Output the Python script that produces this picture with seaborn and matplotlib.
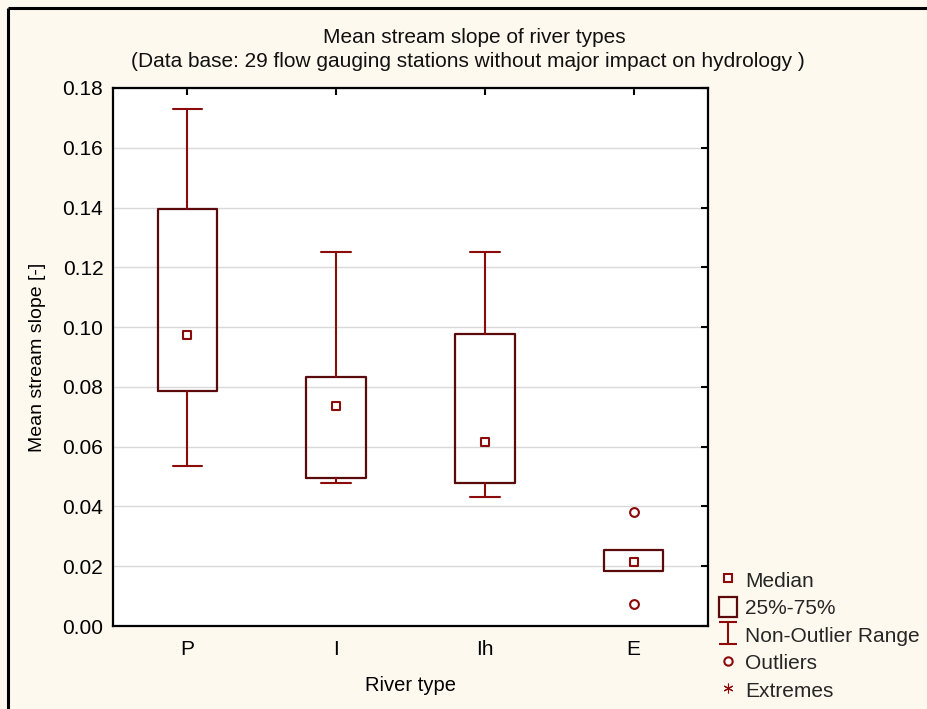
import numpy as np
import pandas as pd
import matplotlib
matplotlib.use('Agg')
import matplotlib.pyplot as plt
import seaborn as sns
from matplotlib.lines import Line2D
from matplotlib.patches import Patch
from matplotlib.path import Path

# ---------------- data ----------------
categories = ['P', 'I', 'Ih', 'E']
whisker_low = [0.0534, 0.0478, 0.0431, 0.0184]
q1 = [0.0785, 0.0494, 0.0478, 0.0184]
medians = [0.0975, 0.0735, 0.0617, 0.0214]
q3 = [0.1396, 0.0832, 0.0976, 0.0254]
whisker_high = [0.1730, 0.1252, 0.1252, 0.0254]
outlier_cat = ['E', 'E']
outlier_val = [0.0381, 0.0073]
yticks = [0.00, 0.02, 0.04, 0.06, 0.08, 0.10, 0.12, 0.14, 0.16, 0.18]

title_line1 = 'Mean stream slope of river types'
title_line2 = '(Data base: 29 flow gauging stations without major impact on hydrology )'
legend_labels = ['Median', '25%-75%', 'Non-Outlier Range', 'Outliers', 'Extremes']

# ---------------- style ----------------
bg = '#FEF9EE'
box_c = '#5A0A0A'
red_c = '#8B0A0A'

sns.set_theme(style='white')
plt.rcParams['font.family'] = ['Liberation Sans', 'DejaVu Sans']

W, H = 928, 709
fig = plt.figure(figsize=(W / 100, H / 100), dpi=100, facecolor=bg)
ax = fig.add_axes([113 / W, 1 - 626 / H, (708 - 113) / W, (626 - 88) / H])
ax.set_facecolor('white')

pos = np.arange(len(categories))
df_med = pd.DataFrame({'pos': pos, 'median': medians})
df_out = pd.DataFrame({'pos': [categories.index(c) for c in outlier_cat],
                       'value': outlier_val})

stats = []
for i in range(len(categories)):
    stats.append(dict(whislo=whisker_low[i], q1=q1[i], med=medians[i],
                      q3=q3[i], whishi=whisker_high[i], fliers=[]))
capw = [0.2 if (whisker_high[i] > q3[i] or whisker_low[i] < q1[i]) else 0.0
        for i in range(len(categories))]

ax.bxp(stats, positions=pos, widths=0.4, capwidths=capw, showfliers=False,
       boxprops=dict(color=box_c, lw=1.6),
       whiskerprops=dict(color=red_c, lw=1.5),
       capprops=dict(color=red_c, lw=1.5),
       medianprops=dict(visible=False), manage_ticks=False)

sns.scatterplot(data=df_med, x='pos', y='median', marker='s', s=36,
                facecolor='white', edgecolor=red_c, linewidth=1.5,
                ax=ax, zorder=4, legend=False)
sns.scatterplot(data=df_out, x='pos', y='value', marker='o', s=40,
                facecolor='white', edgecolor=red_c, linewidth=1.5,
                ax=ax, zorder=4, legend=False)

ax.set_xlim(-0.5, len(categories) - 0.5)
ax.set_ylim(yticks[0], yticks[-1])
ax.set_xticks(pos)
ax.set_xticklabels(categories)
ax.set_yticks(yticks)
ax.set_yticklabels([f'{v:.2f}' for v in yticks])
ax.yaxis.grid(True, color='#D9D9D9', lw=1)
ax.xaxis.grid(False)
ax.set_axisbelow(True)
for s in ax.spines.values():
    s.set_color('black')
    s.set_linewidth(1.6)
    s.set_visible(True)
ax.tick_params(axis='both', direction='in', top=True, right=True, length=5,
               width=1.5, color='black', labelsize=15, labelcolor='black')
ax.tick_params(axis='y', pad=7)
ax.tick_params(axis='x', pad=10)
ax.set_xlabel('River type', fontsize=14.5, labelpad=12, color='black')
ax.set_ylabel('Mean stream slope [-]', fontsize=14, labelpad=12, color='black')

# titles
fig.text(474 / W, 1 - 43 / H, title_line1, ha='center', va='baseline',
         fontsize=15, color='#111111')
fig.text(467.5 / W, 1 - 67 / H, title_line2, ha='center', va='baseline',
         fontsize=15, color='#111111')

# legend
nor_path = Path([(-0.85, 1), (0.85, 1), (0, 1), (0, -1), (-0.85, -1), (0.85, -1)],
                [Path.MOVETO, Path.LINETO, Path.MOVETO, Path.LINETO,
                 Path.MOVETO, Path.LINETO])
handles = [
    Line2D([], [], ls='none', marker='s', ms=6, mfc='white', mec=red_c, mew=1.5),
    Patch(facecolor='none', edgecolor=box_c, lw=1.6),
    Line2D([], [], ls='none', marker=nor_path, ms=16, mfc='none', mec=red_c, mew=1.5),
    Line2D([], [], ls='none', marker='o', ms=6, mfc='white', mec=red_c, mew=1.5),
    Line2D([], [], ls='none', marker=(6, 2, 0), ms=7, mfc=red_c, mec=red_c, mew=0.8),
]
fig.legend(handles, legend_labels, loc='upper left',
           bbox_to_anchor=(719 / W, 1 - 570 / H), frameon=False, fontsize=15,
           handlelength=0.87, handleheight=1.05, handletextpad=0.4,
           labelspacing=0.32, borderpad=0, borderaxespad=0)

# figure border (top and left)
fig.add_artist(Line2D([8.5 / W, 8.5 / W], [0, 1 - 7.5 / H], transform=fig.transFigure,
                      color='black', lw=2.2, solid_capstyle='butt'))
fig.add_artist(Line2D([7.5 / W, 1], [1 - 8 / H, 1 - 8 / H], transform=fig.transFigure,
                      color='black', lw=2.2, solid_capstyle='butt'))

fig.savefig('out.png', dpi=100, facecolor=bg)
